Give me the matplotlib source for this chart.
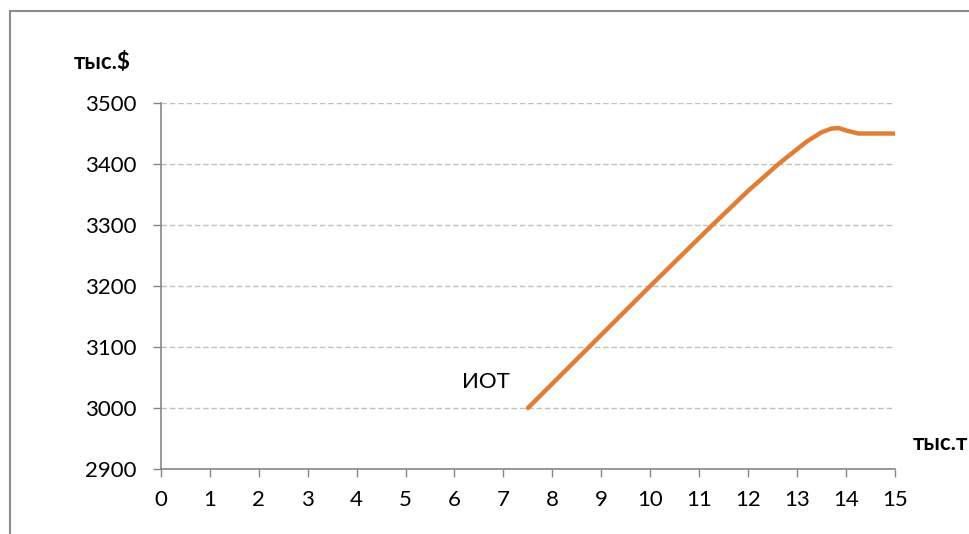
import matplotlib.pyplot as plt
from matplotlib.lines import Line2D

plt.rcParams['font.family'] = ['Lato', 'DejaVu Sans']

# Curve
volume = [7.5, 8.75, 10.0, 11.27, 12.0, 12.62, 13.2, 13.5, 13.7, 13.85, 14.0, 14.25, 15.0]
income = [3000, 3100, 3200, 3300, 3356, 3400, 3437, 3452, 3458, 3459, 3455, 3450, 3450]

x_ticks = list(range(0, 16))
y_ticks = [2900, 3000, 3100, 3200, 3300, 3400, 3500]

fig = plt.figure(figsize=(9.69, 5.34), dpi=100)
ax = fig.add_axes([0.166, 0.1217, 0.9236 - 0.166, 0.8071 - 0.1217])

ax.plot(volume, income, color='#E07E35', linewidth=3.2, solid_capstyle='round',
        solid_joinstyle='round', zorder=3)

ax.set_xlim(0, 15)
ax.set_ylim(2900, 3500)
ax.set_xticks(x_ticks)
ax.set_yticks(y_ticks)
ax.tick_params(axis='both', labelsize=16, color='#878787', length=5.8, width=1,
               direction='out')
ax.tick_params(axis='x', pad=9)
ax.tick_params(axis='y', pad=12)

for side in ('top', 'right'):
    ax.spines[side].set_visible(False)
for side in ('left', 'bottom'):
    ax.spines[side].set_color('#878787')
    ax.spines[side].set_linewidth(1.2)

ax.yaxis.grid(True, color='#C0C0C0', linestyle=(0, (4, 2)), linewidth=1)
ax.set_axisbelow(True)

ax.text(6.64, 3043, 'ИОТ', fontsize=16, ha='center', va='center')

fig.text(102 / 969, 1 - 62 / 534, 'тыс.$', fontsize=16, fontweight='bold',
         ha='center', va='center')
fig.text(940 / 969, 1 - 443 / 534, 'тыс.т', fontsize=16, fontweight='bold',
         ha='center', va='center')

# outer chart frame
frame_kw = dict(color='#8C8C8C', linewidth=1.5, transform=fig.transFigure)
fig.add_artist(Line2D([10 / 969, 1.0], [1 - 11 / 534, 1 - 11 / 534], **frame_kw))
fig.add_artist(Line2D([10 / 969, 10 / 969], [0.0, 1 - 11 / 534], **frame_kw))

fig.savefig('out.png', dpi=100)
